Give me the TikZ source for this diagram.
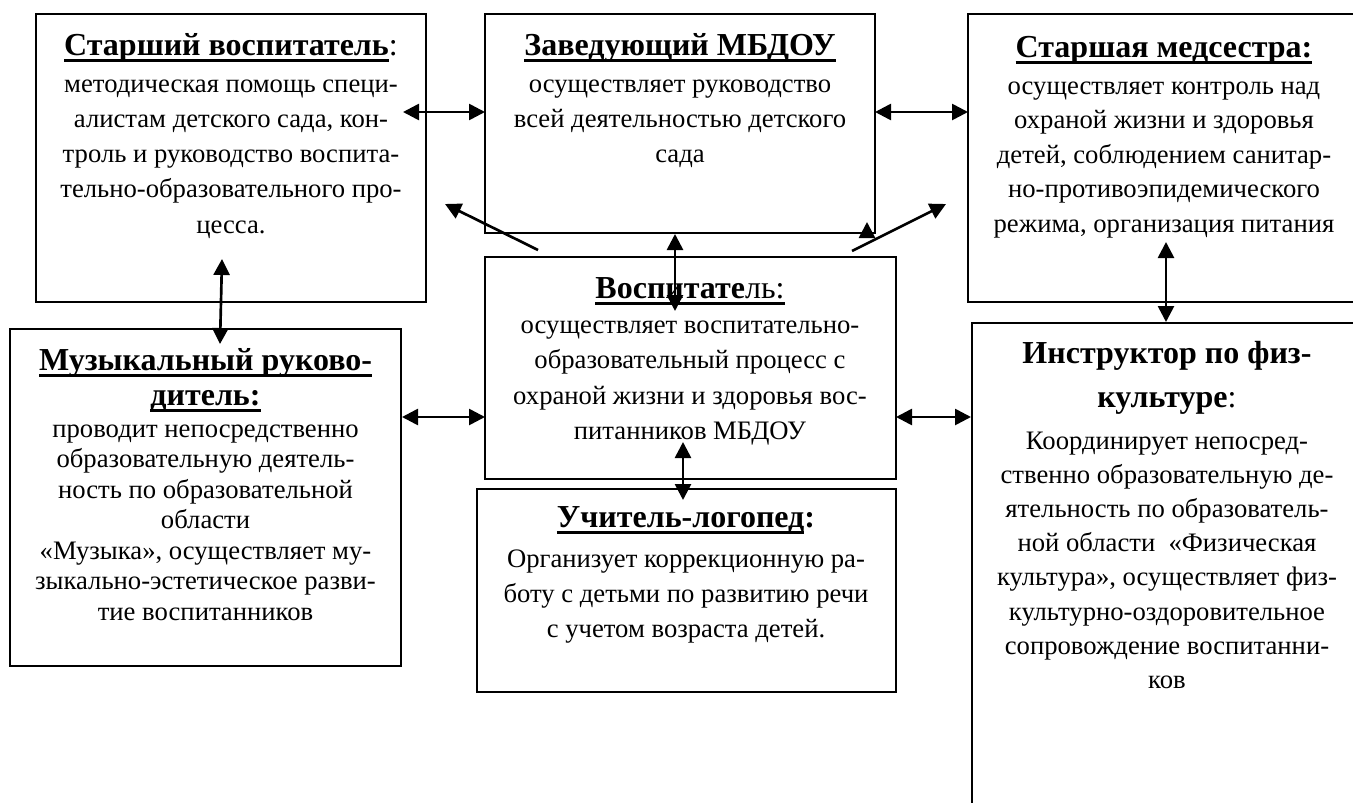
\documentclass[tikz,border=0pt]{standalone}
\usepackage{fontspec}
\setmainfont{Liberation Serif}
\usetikzlibrary{arrows.meta,fit}
\newcommand\ulx[1]{\setbox0\hbox{#1}\rlap{\rule[-5.3pt]{\wd0}{2.2pt}}\box0}
\begin{document}
\begin{tikzpicture}[x=0.75pt,y=-0.75pt,
  box/.style={draw, line width=1.4pt, inner sep=0pt},
  body/.style={anchor=base, inner sep=0pt, font=\fontsize{20}{24}\selectfont},
  ttl/.style={anchor=base, inner sep=0pt, font=\fontsize{24}{28}\selectfont},
  link/.style={line width=2pt, {Triangle[length=12pt,width=12pt]}-{Triangle[length=12pt,width=12pt]}},
  one/.style={line width=2pt, -{Triangle[length=12pt,width=12pt]}}]
\useasboundingbox (0,0) rectangle (1353,803);
\clip (0,0) rectangle (1353,803);
\fill[white] (0,0) rectangle (1353,803);

% boxes
\node[box, fit={(36,14) (426,302)}] (b1) {};
\node[box, fit={(485,14) (875,233)}] (b2) {};
\node[box, fit={(968,14) (1361,302)}] (b3) {};
\node[box, fit={(10,329) (401,666)}] (b4) {};
\node[box, fit={(485,257) (896,479)}] (b5) {};
\node[box, fit={(477,489) (896,692)}] (b6) {};
\node[box, fit={(972,323) (1361,830)}] (b7) {};

% box 1
\node[ttl] (t1) at (231,55) {\ulx{\textbf{Старший воспитатель}}:};
\foreach \t [count=\i] in {методическая помощь специ-, {алистам детского сада, кон-}, троль и руководство воспита-, тельно-образовательного про-, цесса.}
  \node[body] (l1-\i) at (231,{92+(\i-1)*35.3}) {\t};

% box 2
\node[ttl] (t2) at (680,55) {\ulx{\textbf{Заведующий МБДОУ}}};
\foreach \t [count=\i] in {осуществляет руководство, всей деятельностью детского, сада}
  \node[body] (l2-\i) at (680,{92+(\i-1)*35.3}) {\t};

% box 3
\node[ttl] (t3) at (1164,57) {\ulx{\textbf{Старшая медсестра:}}};
\foreach \t [count=\i] in {осуществляет контроль над, охраной жизни и здоровья, {детей, соблюдением санитар-}, но-противоэпидемического, {режима, организация питания}}
  \node[body] (l3-\i) at (1164,{94+(\i-1)*34.6}) {\t};

% box 4
\node[ttl] (t4a) at (205.5,370) {\ulx{\textbf{Музыкальный руково-}}};
\node[ttl] (t4b) at (205.5,405) {\ulx{\textbf{дитель:}}};
\foreach \t [count=\i] in {проводит непосредственно, образовательную деятель-, ность по образовательной, области, {«Музыка», осуществляет му-}, зыкально-эстетическое разви-, тие воспитанников}
  \node[body] (l4-\i) at (205.5,{437+(\i-1)*30.5}) {\t};

% box 5
\node[ttl] (t5) at (690,298) {\ulx{\textbf{Воспитате}ль:}};
\foreach \t [count=\i] in {осуществляет воспитательно-, образовательный процесс с, охраной жизни и здоровья вос-, питанников МБДОУ}
  \node[body] (l5-\i) at (690,{333+(\i-1)*35.5}) {\t};

% box 6
\node[ttl] (t6) at (686,527) {\ulx{\textbf{Учитель-логопед}}\textbf{:}};
\foreach \t [count=\i] in {Организует коррекционную ра-, боту с детьми по развитию речи, с учетом возраста детей.}
  \node[body] (l6-\i) at (686,{567+(\i-1)*35}) {\t};

% box 7
\node[ttl] (t7a) at (1167,363) {\textbf{Инструктор по физ-}};
\node[ttl] (t7b) at (1167,407) {\textbf{культуре}:};
\foreach \t [count=\i] in {Координирует непосред-, ственно образовательную де-, ятельность по образователь-, ной области\ \ «Физическая, {культура», осуществляет физ-}, культурно-оздоровительное, сопровождение воспитанни-, ков}
  \node[body] (l7-\i) at (1167,{449+(\i-1)*34.2}) {\t};

% connector end points
\coordinate (a1s) at (403,112); \coordinate (a1e) at (485,112);
\coordinate (a2s) at (875,112); \coordinate (a2e) at (968,112);
\coordinate (a3s) at (222,259); \coordinate (a3e) at (220,344);
\coordinate (a4s) at (402,417); \coordinate (a4e) at (485,417);
\coordinate (a5s) at (896,417); \coordinate (a5e) at (971,417);
\coordinate (a6s) at (675,234); \coordinate (a6e) at (675,311);
\coordinate (a7s) at (683,442); \coordinate (a7e) at (683,500);
\coordinate (a8s) at (1166,242); \coordinate (a8e) at (1166,322);
\coordinate (a9s) at (538,250); \coordinate (a9e) at (445,204);
\coordinate (a10s) at (852,251); \coordinate (a10e) at (946,204);
\coordinate (a11s) at (867,237); \coordinate (a11e) at (867,222);

\draw[link] (a1s) -- (a1e);
\draw[link] (a2s) -- (a2e);
\draw[link] (a3s) -- (a3e);
\draw[link] (a4s) -- (a4e);
\draw[link] (a5s) -- (a5e);
\draw[link] (a6s) -- (a6e);
\draw[link] (a7s) -- (a7e);
\draw[link] (a8s) -- (a8e);
\draw[one] (a9s) -- (a9e);
\draw[one] (a10s) -- (a10e);
\draw[one] (a11s) -- (a11e);
\end{tikzpicture}
\end{document}
